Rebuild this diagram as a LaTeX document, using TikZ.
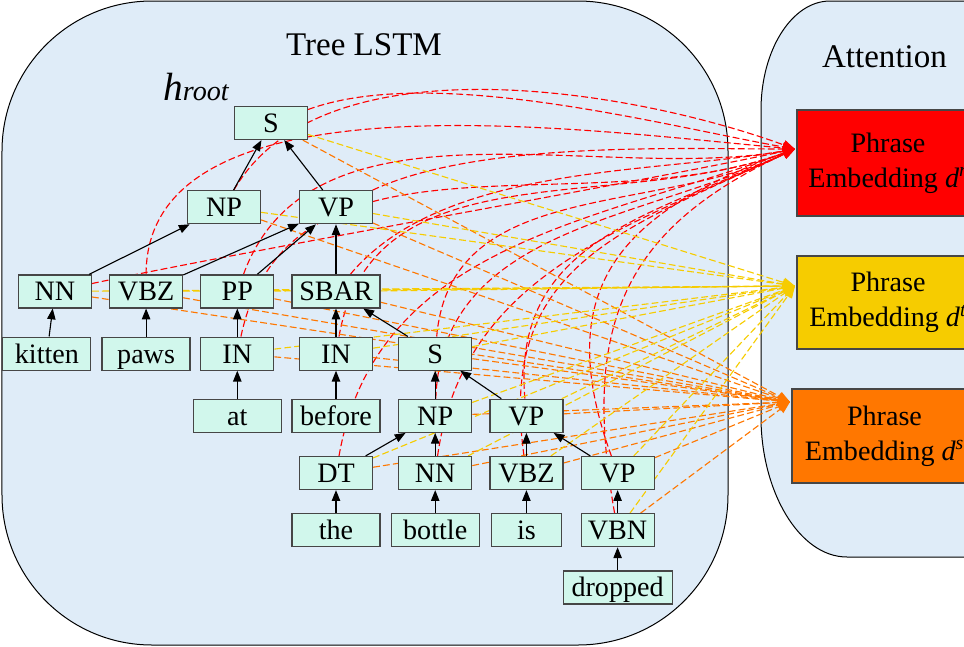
\documentclass[tikz,border=0pt]{standalone}
\usepackage{fontspec}
\setmainfont{Liberation Serif}
\usetikzlibrary{positioning, arrows.meta}
\definecolor{mymint}{RGB}{209,247,236}
\definecolor{mylightblue}{RGB}{223,236,248}
\definecolor{myred}{RGB}{255,0,0}
\definecolor{myyellow}{RGB}{246,204,0}
\definecolor{myorange}{RGB}{255,119,0}
\definecolor{mygray}{RGB}{70,70,70}
\pgfdeclarelayer{bg}
\pgfdeclarelayer{edges}
\pgfsetlayers{bg,edges,main}

\begin{document}
\begin{tikzpicture}[
		x=0.25mm, y=-0.25mm,
		node distance=12.5mm and 4.25mm,
		tag/.style={rectangle, draw=mygray, fill=mymint, line width=0.3mm, minimum width=18.25mm, minimum height=8.25mm, inner sep=0pt, text height=15pt, text depth=1.5pt, font=\fontsize{20}{24}\selectfont},
		word/.style={tag, minimum width=22mm},
		phrase/.style={rectangle, draw=mygray, line width=0.3mm, minimum width=45.5mm, align=center, font=\fontsize{20}{25}\selectfont},
		title/.style={anchor=base, inner sep=0pt, font=\fontsize{23.5}{28}\selectfont},
		panel/.style={draw=black, line width=0.25mm, fill=mylightblue},
		arrow/.style={line width=0.28mm, -{Triangle[length=2.7mm, width=2.1mm]}},
		link/.style={line width=0.28mm, dash pattern=on 1.7mm off 0.8mm, -{Triangle[length=3mm, width=2.4mm]}},
		rline/.style={link, myred},
		yline/.style={link, myyellow},
		oline/.style={link, myorange}
		]
		\useasboundingbox (0,0) rectangle (964,646);
		
		% Panels
		\begin{pgfonlayer}{bg}
			\clip (0,0) rectangle (964,646);
			\draw[panel, rounded corners=37.5mm] (2,1) rectangle (728,645);
			\draw[panel] (761,417) -- (761,110) .. controls (761,50) and (792,1) .. (830,1) -- (1000,1) -- (1000,557) -- (847,557) .. controls (799,557) and (761,491) .. (761,417);
		\end{pgfonlayer}
		\clip (0,0) rectangle (964,646);
		
		\node[title] (treetitle) at (364,55) {Tree LSTM};
		\node[title] (atttitle) at (884.5,67) {Attention};
		\node[anchor=base west, inner sep=0pt] (hroot) at (163,100) {{\fontsize{28}{30}\selectfont\itshape h}{\fontsize{20}{24}\selectfont\itshape root}};
		
		% Nodes
		\node[tag] (root) at (271,123) {S};
		\node[tag, below=of root, xshift=-11.75mm] (np) {NP};
		\node[tag, below=of root, xshift=16.25mm] (vp) {VP};
		
		\node[tag, below=of vp, minimum width=22mm] (sbar) {SBAR};
		\node[tag, left=of sbar] (pp) {PP};
		\node[tag, left=of pp] (vbz) {VBZ};
		\node[tag, left=of vbz] (nn) {NN};
		
		\node[word, below=7mm of vbz] (paws) {paws};
		\node[word, left=2.5mm of paws] (kitten) {kitten};
		\node[tag, below=7mm of pp] (in1) {IN};
		\node[tag, below=7mm of sbar] (in2) {IN};
		\node[tag, right=6.25mm of in2] (s2) {S};
		
		\node[word, below=7mm of in1] (at) {at};
		\node[word, below=7mm of in2] (before) {before};
		\node[tag, below=7mm of s2] (np2) {NP};
		\node[tag, right=of np2] (vp2) {VP};
		
		\node[tag, below=5.75mm of before] (dt) {DT};
		\node[tag, below=5.75mm of np2] (nn2) {NN};
		\node[tag, below=5.75mm of vp2] (vbz2) {VBZ};
		\node[tag, right=of vbz2] (vp3) {VP};
		
		\node[word, below=5.75mm of dt] (the) {the};
		\node[word, below=5.75mm of nn2] (bottle) {bottle};
		\node[word, below=5.75mm of vbz2, minimum width=17.5mm] (is) {is};
		\node[tag, below=5.75mm of vp3] (vbn) {VBN};
		\node[word, below=5.75mm of vbn, minimum width=27.25mm] (dropped) {dropped};
		
		\node[phrase, fill=myred, minimum height=26.5mm] (rbox) at (888,163) {Phrase\\Embedding \textit{d}\textsuperscript{\textit{r}}};
		\node[phrase, fill=myyellow, minimum height=23.25mm] (ybox) at (888,302.5) {Phrase\\Embedding \textit{d}\textsuperscript{\textit{t}}};
		\node[phrase, fill=myorange, minimum height=23.5mm, minimum width=46.25mm] (obox) at (884.5,436) {Phrase\\Embedding \textit{d}\textsuperscript{\textit{s}}};
		
		\coordinate (rtip) at (795,149);
		\coordinate (ytip) at (795,286);
		\coordinate (otip) at (790,402);
		
		% Arrows
		\draw[arrow] (np) -- (root);
		\draw[arrow] (vp) -- (root);
		\draw[arrow] (nn) -- (np);
		\draw[arrow] (vbz) -- (vp);
		\draw[arrow] (pp) -- (vp);
		\draw[arrow] (sbar) -- (vp);
		\draw[arrow] (kitten) -- (nn);
		\draw[arrow] (paws) -- (vbz);
		\draw[arrow] (in1) -- (pp);
		\draw[arrow] (in2) -- (sbar);
		\draw[arrow] (s2) -- (sbar);
		\draw[arrow] (at) -- (in1);
		\draw[arrow] (before) -- (in2);
		\draw[arrow] (np2) -- (s2);
		\draw[arrow] (vp2) -- (s2);
		\draw[arrow] (dt) -- (np2);
		\draw[arrow] (nn2) -- (np2);
		\draw[arrow] (the) -- (dt);
		\draw[arrow] (bottle) -- (nn2);
		\draw[arrow] (vbz2) -- (vp2);
		\draw[arrow] (vp3) -- (vp2);
		\draw[arrow] (is) -- (vbz2);
		\draw[arrow] (vbn) -- (vp3);
		\draw[arrow] (dropped) -- (vbn);
		
		% Attention links
		\begin{pgfonlayer}{edges}
			\draw[rline] (root) to[out=20, in=170, looseness=0.7] (rtip);
			\draw[rline] (np) to[out=60, in=160, looseness=0.8] (rtip);
			\draw[rline] (vp) to[out=25, in=180, looseness=0.7] (rtip);
			\draw[rline] (nn) to[out=12, in=192, looseness=0.6] (rtip);
			\draw[rline] (vbz) to[out=90, in=175, looseness=0.8] (rtip);
			\draw[rline] (pp) to[out=70, in=190, looseness=0.9] (rtip);
			\draw[rline] (sbar) to[out=50, in=190, looseness=0.8] (rtip);
			\draw[rline] (in1) to[out=78, in=200] (rtip);
			\draw[rline] (in2) to[out=80, in=200] (rtip);
			\draw[rline] (s2) to[out=85, in=205] (rtip);
			\draw[rline] (np2) to[out=88, in=205] (rtip);
			\draw[rline] (vp2) to[out=95, in=205, looseness=1.1] (rtip);
			\draw[rline] (dt) to[out=80, in=200] (rtip);
			\draw[rline] (nn2) to[out=82, in=205] (rtip);
			\draw[rline] (vbz2) to[out=98, in=205, looseness=1.2] (rtip);
			\draw[rline] (vp3) to[out=110, in=200, looseness=1.3] (rtip);
			\draw[rline] (vbn) to[out=100, in=205, looseness=1.2] (rtip);
			\foreach \n in {root,np,vp,nn,vbz,pp,sbar,in1,in2,s2,np2,vp2,dt,nn2,vbz2,vp3,vbn}{
				\draw[yline] (\n) -- (ytip);
				\draw[oline] (\n) -- (otip);
			}
		\end{pgfonlayer}
		
	\end{tikzpicture}
\end{document}
